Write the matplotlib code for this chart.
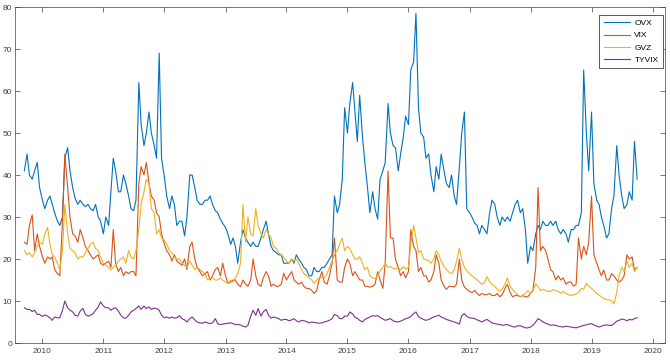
import matplotlib
matplotlib.use('Agg')
import matplotlib.pyplot as plt
import matplotlib.dates as mdates
import pandas as pd

plt.rcParams['font.family'] = ['Liberation Sans', 'DejaVu Sans']

# 半月ごとの読み取り値 (2009-09-15 〜 2019-10-01)
ovx = [41, 45, 40, 39, 41, 43, 37, 34, 32, 34,
       35, 33, 31, 29, 28, 30, 44, 46.5, 41, 37,
       34.5, 33, 34, 33, 32.5, 33, 32, 31.5, 33, 30,
       29, 26, 30, 28, 36, 44, 41, 36, 36, 40,
       38, 35, 32, 31.5, 34, 62, 52, 47, 50, 55,
       50, 47, 44, 69, 44, 39.5, 35, 32, 35, 33,
       28, 29, 29, 25.5, 30, 40, 40, 37, 34, 33,
       33, 34, 34, 35, 33, 31.5, 31, 29.5, 28.5, 27.5,
       26, 23.5, 25, 23, 19, 24, 27, 25, 24, 23,
       24, 23, 23, 25, 27, 29, 26, 23, 22, 21.5,
       21, 21, 19, 19, 19, 20, 19, 21, 20, 19,
       18, 17.5, 16, 16, 18, 17, 17, 18, 18, 19,
       20, 21, 35, 31, 33, 39, 56, 50, 57, 62,
       55, 48, 59, 49, 43, 37, 31, 36, 32, 29.5,
       39, 41, 43, 57, 50, 47, 46.5, 41, 45, 49,
       54, 52, 65, 67, 78.5, 56, 50, 49, 44, 45,
       40, 36, 42, 39, 45, 41, 38, 37, 40, 35,
       33, 42, 50, 55, 32, 31, 30, 28.5, 28, 26,
       28, 27, 26, 31, 34, 33, 30, 28, 30, 29,
       30, 29, 31, 33, 34, 31, 32, 27, 19, 23,
       22, 26, 28, 27, 29, 28, 28, 29, 28, 29,
       27, 26, 27, 26, 24, 27, 27, 28, 28, 31,
       65, 50, 41, 55, 38, 34, 33, 30, 28, 25,
       26, 32, 35, 47, 40, 35, 32, 33, 36, 34,
       48, 39]

vix = [24, 23.5, 28, 30.5, 22, 26, 23, 20.5, 19, 20.5,
       20, 20.5, 17.5, 16.5, 16, 29, 45, 37, 30, 26,
       25.5, 24, 27, 25, 23, 22, 21, 20, 20.5, 21,
       19, 18.5, 19, 19.5, 18, 27, 19, 17, 18, 16,
       17, 16.5, 17, 17, 16, 38, 42, 40, 43, 38,
       35, 34, 31, 30, 26, 23.5, 22, 21, 19.5, 21,
       19.5, 19, 18.5, 20, 17.5, 23, 24, 20, 18, 17,
       16, 16.5, 17, 15, 16, 17.5, 18, 16, 19, 16,
       14.2, 14.5, 15, 15, 14, 13.4, 15, 14, 13.5, 15,
       20, 16, 14, 13.5, 15.5, 17, 16, 13.5, 14, 13.5,
       13.5, 14, 16.6, 15, 16, 17, 15, 14.5, 14, 14.5,
       13.5, 13, 13, 12.5, 11.8, 12.5, 15, 17, 14.5, 14,
       16, 19, 25, 15, 14.5, 14.5, 18, 20, 19, 16,
       17, 16, 15, 15, 13.5, 13.5, 13.3, 13.5, 14, 17,
       15, 13, 19, 41, 25, 25, 20, 18, 16, 17,
       15.5, 17, 27, 23, 22, 17, 18, 16, 16, 14.5,
       15, 17, 21, 19, 15, 13.5, 12.8, 13.5, 13.5, 13.3,
       14, 20, 15, 13.3, 12.8, 12.3, 12, 12.5, 11.8, 11.3,
       11.8, 11.5, 11.5, 11.8, 11.3, 11.3, 11.8, 11, 11.5, 13,
       14, 12, 11, 11.3, 11.3, 11, 11.3, 11, 11, 11.8,
       12.5, 18, 37, 22, 23, 22, 20, 17.4, 17, 15,
       16, 15, 15.5, 14, 14.5, 14.5, 13.5, 14, 25, 20,
       23, 21, 24, 35, 21, 19, 17.4, 16, 17.4, 15,
       15, 16.5, 16, 15, 14.5, 15, 16, 21, 20, 20.5,
       17.4, 18]

gvz = [22, 21, 21.5, 20.5, 21.5, 23, 24, 23.5, 26, 27.5,
       23.5, 21, 20.5, 19, 17.5, 22, 33, 26, 22.5, 22,
       21.5, 20, 20.5, 20.5, 21.5, 22.5, 23.5, 24, 22.5, 22,
       20.5, 19, 18.5, 18, 17.4, 18, 18.5, 19.5, 20, 20.5,
       19, 22, 20.5, 20, 22, 27, 33, 36, 39, 38,
       32, 31, 26, 27, 25, 24.5, 23.5, 22, 21.5, 20.5,
       20, 20, 19, 18.5, 18, 19.5, 18.5, 17.5, 18, 17.5,
       17, 16.5, 15, 15.5, 15.5, 15, 15, 15.5, 15, 14.5,
       14.2, 15, 14.5, 15.5, 16.5, 19, 33, 24, 30, 26,
       25.5, 32, 28, 26, 25, 27, 26, 25, 23, 22.5,
       21.5, 21, 20.5, 19.5, 19, 20, 19.5, 20, 19, 17.5,
       16.5, 16, 15.5, 15, 14.2, 15, 15.5, 15.5, 15.5, 16.5,
       18, 19.5, 21, 22, 23.5, 25, 22, 23, 22.5, 21,
       20, 20, 20.5, 19, 17.5, 18, 16, 15.5, 15.3, 16,
       17.2, 18, 19, 18, 18.2, 17.8, 17.6, 18, 17.4, 18.2,
       17.6, 18, 23.5, 28, 25, 21.5, 22, 20, 19.8, 19.6,
       19, 20, 22, 21, 19.5, 18.2, 17.5, 16.8, 16.5, 17.4,
       19.5, 22.5, 20, 18, 17.2, 16.5, 16, 15.5, 15, 14.5,
       14, 14.5, 15.8, 14.5, 14, 13.5, 12.8, 12.3, 12.8, 14,
       15.5, 13.5, 12.8, 12, 11.5, 11, 11.4, 11.8, 12.5, 11.8,
       12.5, 14, 13.5, 12.5, 12.8, 12.5, 12.3, 12.3, 12.7, 12.5,
       12.3, 11.8, 12.3, 11.8, 11.5, 11.3, 11.5, 11.7, 12, 13,
       12.8, 14.2, 13.5, 13, 12.5, 11.8, 11.4, 11, 10.6, 10.3,
       10.3, 10, 9.3, 12, 16, 18, 17, 19.5, 18, 19,
       17, 18]

tyvix = [8.4, 8.0, 8.0, 7.5, 7.8, 6.8, 6.8, 6.3, 6.7, 6.4,
         6.0, 5.4, 6.2, 6.0, 6.0, 7.8, 10.0, 8.4, 7.8, 7.4,
         6.6, 6.4, 7.6, 8.2, 6.8, 6.4, 6.6, 7.0, 7.8, 8.6,
         9.8, 8.8, 8.4, 8.4, 7.8, 8.2, 8.4, 7.6, 6.6, 6.0,
         5.9, 6.6, 7.4, 7.8, 8.2, 8.8, 8.0, 8.8, 8.2, 8.6,
         8.0, 8.3, 8.2, 7.8, 6.6, 6.0, 6.2, 5.9, 6.2, 5.9,
         6.0, 6.5, 5.8, 5.5, 5.0, 5.8, 6.2, 5.5, 5.0, 4.8,
         4.7, 5.0, 4.8, 4.6, 4.8, 5.8, 4.6, 4.4, 4.5, 4.6,
         4.7, 4.8, 4.6, 4.4, 4.4, 4.3, 4.0, 3.8, 4.2, 6.4,
         7.8, 6.6, 8.2, 6.4, 7.4, 8.0, 6.6, 5.9, 6.2, 6.0,
         5.8, 5.4, 5.6, 5.6, 5.3, 5.5, 5.8, 5.3, 5.0, 5.4,
         5.3, 5.1, 4.8, 5.0, 4.9, 4.8, 4.7, 4.8, 5.0, 5.2,
         5.4, 5.8, 6.8, 6.5, 5.8, 5.8, 6.4, 6.4, 7.4, 6.9,
         6.1, 5.9, 5.4, 5.0, 5.6, 5.9, 6.2, 6.5, 6.4, 6.5,
         6.1, 5.7, 5.4, 5.6, 5.8, 5.3, 5.1, 5.0, 5.2, 5.5,
         5.8, 6.0, 6.3, 7.0, 7.4, 6.3, 5.9, 5.6, 5.4, 5.6,
         5.9, 6.2, 6.4, 6.6, 6.2, 5.9, 5.6, 5.4, 5.2, 5.0,
         4.8, 4.5, 6.5, 7.0, 6.3, 6.0, 5.9, 5.8, 5.5, 5.3,
         5.0, 5.4, 5.6, 5.2, 4.8, 4.6, 4.5, 4.4, 4.2, 4.3,
         4.4, 4.1, 3.9, 3.8, 4.1, 4.1, 3.9, 3.6, 3.6, 3.8,
         4.2, 5.0, 5.8, 5.5, 5.0, 4.7, 4.5, 4.2, 4.3, 4.2,
         4.0, 3.9, 3.8, 4.0, 3.9, 3.8, 3.7, 3.6, 3.8, 4.0,
         4.2, 4.3, 4.5, 4.6, 4.3, 4.0, 3.8, 4.0, 4.2, 4.3,
         4.2, 4.2, 4.6, 5.2, 5.4, 5.7, 5.6, 5.3, 5.6, 5.5,
         5.8, 6.0]

dates = pd.date_range('2009-09-15', periods=len(ovx), freq='SMS')

# 図の大きさ (670x362 px)
fig = plt.figure(figsize=(6.7, 3.62), dpi=100)
ax = fig.add_axes([14.7 / 670, 1 - 343 / 362, 650 / 670, 336 / 362])

# MATLAB既定の配色
ax.plot(dates, ovx, color='#0072BD', lw=0.8, label='OVX')
ax.plot(dates, vix, color='#D95319', lw=0.8, label='VIX')
ax.plot(dates, gvz, color='#EDB120', lw=0.8, label='GVZ')
ax.plot(dates, tyvix, color='#7E2F8E', lw=0.8, label='TYVIX')

ax.set_ylim(0, 80)
ax.set_yticks(range(0, 81, 10))
ax.set_xlim(pd.Timestamp('2009-07-19'), pd.Timestamp('2020-03-14'))
ax.xaxis.set_major_locator(mdates.YearLocator())
ax.xaxis.set_major_formatter(mdates.DateFormatter('%Y'))

ax.tick_params(direction='in', top=True, right=True, length=3.5, width=0.5,
               labelsize=6, colors='#404040')
ax.tick_params(axis='x', pad=3.5)
ax.tick_params(axis='y', pad=2)
for sp in ax.spines.values():
    sp.set_linewidth(0.5)
    sp.set_color('#404040')

leg = ax.legend(loc='upper right', bbox_to_anchor=(0.997, 0.976),
                borderaxespad=0, fontsize=6, fancybox=False,
                edgecolor='#404040', framealpha=1, handlelength=3.2,
                labelspacing=0.55, borderpad=0.5, handletextpad=0.5)
leg.get_frame().set_linewidth(0.6)

fig.savefig('out.png', dpi=100)
